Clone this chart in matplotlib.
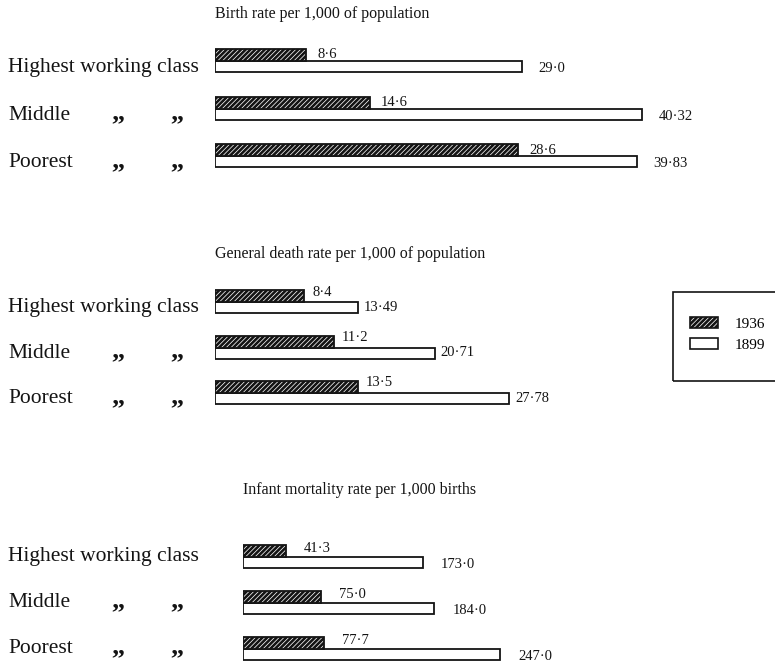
import matplotlib
matplotlib.use("Agg")
import matplotlib.pyplot as plt
from matplotlib.patches import Patch, Rectangle

plt.rcParams['font.family'] = ['Liberation Serif', 'DejaVu Serif']
plt.rcParams['hatch.linewidth'] = 1.9

# ---- data ----
classes = ["Highest working class", "Middle", "Poorest"]
ditto = [False, True, True]
titles = ["Birth rate per 1,000 of population",
          "General death rate per 1,000 of population",
          "Infant mortality rate per 1,000 births"]
years = ["1936", "1899"]
birth_1936 = [8.6, 14.6, 28.6]
birth_1899 = [29.0, 40.32, 39.83]
death_1936 = [8.4, 11.2, 13.5]
death_1899 = [13.49, 20.71, 27.78]
infant_1936 = [41.3, 75.0, 77.7]
infant_1899 = [173.0, 184.0, 247.0]

W, H = 775, 666
fig = plt.figure(figsize=(W / 100, H / 100), dpi=100)
INK = '#141414'
HATCH = '///////'

def fmt(v):
    return str(v).replace('.', '\u00b7')

# layout per panel (pixels)
panels = [
    dict(v36=birth_1936, v99=birth_1899, x0=215, split0=61, sp=47.5, scale=10.6,
         title_xy=(215, 14), d36=(11, 0), d99=(16, -2), lab_dy=11),
    dict(v36=death_1936, v99=death_1899, x0=215, split0=302, sp=45.5, scale=10.6,
         title_xy=(215, 254), d36=(8, 4), d99=(6, 0), lab_dy=10),
    dict(v36=infant_1936, v99=infant_1899, x0=243, split0=557, sp=46.0, scale=1.04,
         title_xy=(243, 490), d36=(18, 2), d99=(18, -2), lab_dy=4),
]

for k, p in enumerate(panels):
    sp = p['sp']
    top_px = p['split0'] - 0.5 * sp
    bot_px = p['split0'] + 2.5 * sp
    ax = fig.add_axes([p['x0'] / W, 1 - bot_px / H, (W - p['x0']) / W, (bot_px - top_px) / H])
    ax.set_xlim(0, (W - p['x0']) / p['scale'])
    ax.set_ylim(2.5, -0.5)
    ax.axis('off')
    ypos = list(range(len(classes)))
    h36, h99 = 12 / sp, 11 / sp
    y36 = [y - h36 / 2 for y in ypos]
    y99 = [y + h99 / 2 for y in ypos]
    ax.barh(y99, p['v99'], height=h99, left=0, facecolor='white', edgecolor=INK,
            linewidth=1.3, zorder=2)
    ax.barh(y36, p['v36'], height=h36, left=0, facecolor='white', edgecolor=INK,
            linewidth=1.3, hatch=HATCH, zorder=3)
    for yy, v in zip(y36, p['v36']):
        ax.annotate(fmt(v), xy=(v, yy), xytext=p['d36'], textcoords='offset pixels',
                    ha='left', va='center', fontsize=10.5, color=INK)
    for yy, v in zip(y99, p['v99']):
        ax.annotate(fmt(v), xy=(v, yy), xytext=p['d99'], textcoords='offset pixels',
                    ha='left', va='center', fontsize=10.5, color=INK)
    for y, name, dit in zip(ypos, classes, ditto):
        ax.annotate(name, xy=(8, y), xycoords=('figure pixels', 'data'),
                    xytext=(0, -p['lab_dy']), textcoords='offset pixels',
                    ha='left', va='baseline', fontsize=15.5, color=INK)
        if dit:
            for xd in (118, 177):
                ax.annotate('\u201e', xy=(xd, y), xycoords=('figure pixels', 'data'),
                            xytext=(0, -p['lab_dy']), textcoords='offset pixels',
                            ha='center', va='baseline', fontsize=19,
                            fontweight='bold', color=INK)
    tx, ty = p['title_xy']
    fig.text(tx / W, 1 - ty / H, titles[k], ha='left', va='center',
             fontsize=11.5, color=INK)

# legend
frame = Rectangle((673 / W, 1 - 381 / H), 130 / W, (381 - 292) / H,
                  transform=fig.transFigure, fill=False, edgecolor=INK, linewidth=1.2,
                  clip_on=False)
fig.add_artist(frame)
handles = [Patch(facecolor='white', edgecolor=INK, hatch=HATCH, linewidth=1.2),
           Patch(facecolor='white', edgecolor=INK, linewidth=1.2)]
fig.legend(handles, years, loc='upper left', bbox_to_anchor=(690 / W, 1 - 317 / H),
           frameon=False, fontsize=11, handlelength=1.8, handleheight=0.75,
           handletextpad=1.1, labelspacing=0.45, borderpad=0, borderaxespad=0)

fig.savefig('out.png', dpi=100)
